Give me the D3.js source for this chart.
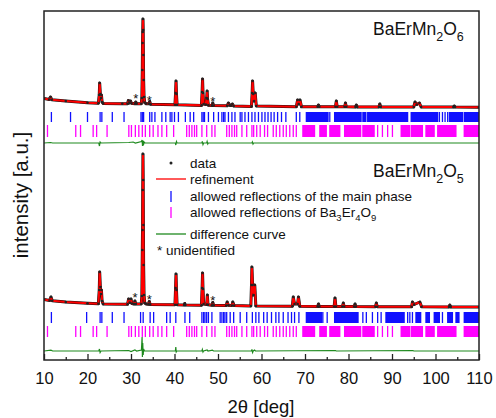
<!doctype html>
<html lang="en">
<head>
	<meta charset="UTF-8">
	<title>BaErMn2O6 / BaErMn2O5 refinement | d3</title>
	<style>
		body {
			margin: 0;
			background: #fff;
		}
		svg text {
			font-family: "Liberation Sans", Arial, sans-serif;
			fill: #111;
		}
	</style>
</head>
<body>
	<script src="https://cdn.jsdelivr.net/npm/d3@7/dist/d3.min.js"></script>
	<script>
		// x axis
		var xTicks = [10, 20, 30, 40, 50, 60, 70, 80, 90, 100, 110],
			xMinorTicks = [15, 25, 35, 45, 55, 65, 75, 85, 95, 105];

		// observed / calculated profile, BaErMn2O6 (top) [2theta, counts]
		var profileO6 = [
			[10.0, 115], [11.2, 105], [11.5, 130], [11.8, 102], [15, 90], [20, 72], [22.5, 68],
			[22.7, 150], [22.8, 270], [22.95, 160], [23.1, 120], [23.2, 150], [23.35, 80], [23.6, 66],
			[28, 62], [29.2, 62], [29.4, 95], [29.6, 70], [29.9, 90], [30.1, 68], [30.9, 62],
			[31.1, 80], [31.3, 62], [32.35, 62], [32.5, 120], [32.6, 400], [32.65, 670], [32.7, 780],
			[32.75, 910], [32.8, 800], [32.85, 550], [32.9, 300], [33.0, 130], [33.15, 75], [33.5, 62],
			[34.1, 62], [34.3, 85], [34.5, 58], [40.1, 52], [40.25, 170], [40.35, 290], [40.45, 160],
			[40.6, 52], [46.2, 46], [46.35, 180], [46.45, 310], [46.55, 170], [46.7, 60], [47.2, 55],
			[47.4, 120], [47.5, 190], [47.6, 110], [47.8, 48], [48.6, 46], [48.8, 70], [49.0, 45],
			[52.1, 42], [52.4, 70], [52.7, 48], [53.0, 44], [53.3, 60], [53.6, 40], [57.7, 36],
			[57.85, 170], [57.95, 290], [58.1, 160], [58.3, 90], [58.55, 170], [58.8, 40], [68.0, 32],
			[68.3, 100], [68.55, 60], [68.85, 100], [69.2, 32], [72.9, 32], [73.1, 50], [73.3, 32],
			[77.0, 32], [77.2, 90], [77.4, 32], [79.1, 32], [79.3, 70], [79.5, 32], [81.6, 31],
			[81.8, 50], [82.0, 31], [87.0, 31], [87.2, 60], [87.4, 31], [95.0, 30], [95.3, 80],
			[95.7, 55], [96.3, 70], [96.7, 30], [104.1, 30], [104.3, 40], [104.5, 30], [110, 28]
		];

		// observed / calculated profile, BaErMn2O5 (bottom)
		var profileO5 = [
			[10.0, 105], [11.3, 95], [11.6, 130], [11.9, 92], [15, 80], [20, 68], [22.5, 62],
			[22.7, 200], [22.8, 380], [22.95, 230], [23.1, 160], [23.2, 200], [23.35, 90], [23.6, 60],
			[29.2, 58], [29.45, 110], [29.7, 75], [30.0, 110], [30.2, 65], [30.7, 60], [30.9, 90],
			[31.1, 60], [32.35, 60], [32.5, 140], [32.6, 600], [32.65, 800], [32.7, 1200], [32.75, 1560],
			[32.8, 1300], [32.85, 850], [32.9, 450], [33.0, 150], [33.15, 70], [33.5, 60], [34.0, 58],
			[34.2, 85], [34.4, 56], [40.1, 52], [40.25, 220], [40.35, 360], [40.45, 200], [40.6, 52],
			[42.2, 50], [42.35, 65], [42.5, 50], [46.2, 48], [46.35, 220], [46.45, 370], [46.55, 210],
			[46.7, 60], [47.4, 55], [47.55, 150], [47.7, 52], [48.6, 48], [48.8, 75], [49.0, 48],
			[51.9, 45], [52.1, 80], [52.4, 48], [53.2, 45], [53.4, 80], [53.7, 44], [57.55, 40],
			[57.7, 250], [57.8, 430], [57.95, 250], [58.2, 150], [58.45, 250], [58.7, 40], [67.1, 38],
			[67.3, 130], [67.6, 60], [68.3, 60], [68.5, 130], [68.8, 38], [72.9, 36], [73.1, 60],
			[73.3, 36], [76.7, 35], [76.9, 120], [77.1, 35], [78.6, 35], [78.8, 70], [79.0, 35],
			[81.3, 34], [81.5, 60], [81.7, 34], [86.2, 33], [86.4, 70], [86.6, 33], [94.5, 32],
			[94.7, 80], [95.1, 55], [96.4, 80], [96.8, 32], [103.1, 31], [103.3, 50], [103.5, 31],
			[110, 30]
		];

		// difference curves (obs - calc)
		var diffO6 = [
			[10, 0], [11.5, 5], [12, 0], [22.6, 0], [22.75, -30], [22.9, 10], [23.1, 0], [29.5, 5],
			[30.5, 10], [31, 0], [32.4, 15], [32.55, 30], [32.65, -30], [32.75, 25], [32.85, -25],
			[33.0, 10], [33.2, 0], [40.2, 0], [40.3, -20], [40.45, 15], [40.6, 0], [46.3, 0],
			[46.4, 15], [46.55, -15], [46.7, 0], [47.4, 0], [47.5, 15], [47.65, -10], [47.8, 0],
			[57.8, 0], [57.9, 10], [58.05, -10], [58.2, 0], [110, 0]
		];
		var diffO5 = [
			[10, 0], [11.6, 8], [12, 0], [22.6, 0], [22.75, 20], [22.9, -15], [23.1, 0], [29.5, 5],
			[30.0, -5], [30.9, 10], [31.3, 0], [32.4, 10], [32.55, 140], [32.62, -60], [32.7, 80],
			[32.8, -40], [32.9, 20], [33.1, 0], [40.2, 0], [40.3, 40], [40.4, -10], [40.55, 0],
			[46.3, 0], [46.4, 15], [46.55, -10], [46.7, 0], [47.5, 10], [47.7, 0], [48.7, 8], [49, 0],
			[57.7, 0], [57.8, 15], [57.95, -15], [58.1, 0], [58.4, 10], [58.6, 0], [77, 5], [77.2, 0],
			[94.8, 5], [95.0, 0], [110, 0]
		];

		// allowed reflections of the main phase
		var mainO6 = [11.7, 16.1, 20.0, 22.9, 23.3, 25.7, 28.4, 32.3, 32.6, 32.9, 34.3, 34.8, 35.5,
			37.1, 38.0, 39.0, 39.4, 40.0, 40.9, 42.5, 43.6, 44.4, 46.3, 46.6, 46.9, 47.8, 49.0, 50.1,
			50.9, 51.3, 51.6, 52.4, 53.2, 53.9, 55.1, 55.5, 56.2, 57.0, 57.8, 58.5, 59.3, 60.1, 60.8,
			61.5, 62.2, 62.9, 63.7, 64.6, 65.6, 68.0, 68.8, 75.7, 100.9, 101.6, 102.2, 102.8];
		var mainO6Bands = [[70.3, 75.3], [76.8, 82.9], [83.3, 84.0], [84.4, 93.6], [94.4, 100.5],
			[103.2, 106.2], [106.6, 110]];

		var mainO5 = [11.7, 19.8, 22.9, 23.3, 25.7, 28.4, 32.2, 32.8, 34.4, 35.2, 38.2, 39.0, 40.3,
			42.4, 43.5, 46.3, 46.7, 47.0, 47.4, 47.8, 48.6, 50.5, 50.9, 51.3, 51.6, 52.0, 52.8, 53.6,
			55.1, 56.6, 57.9, 58.7, 59.4, 60.5, 61.3, 62.3, 63.3, 64.0, 65.0, 66.1, 66.9, 67.6, 68.6,
			74.1, 75.1, 83.3, 84.1, 85.5, 86.7, 87.5, 93.6, 94.1, 94.7, 101.6];
		var mainO5Bands = [[70.3, 73.8], [76.8, 82.2], [88.6, 92.8], [95.5, 96.6], [97.8, 98.6],
			[99.7, 100.9], [102.8, 103.9], [104.7, 105.4], [106.6, 110]];

		// allowed reflections of Ba3Er4O9
		var impurity = [10.8, 17.3, 18.4, 21.3, 22.1, 24.5, 29.5, 30.1, 31.0, 31.8, 32.6, 33.3, 34.3,
			35.1, 36.2, 37.1, 38.2, 39.8, 42.8, 43.4, 44.0, 44.6, 45.1, 46.3, 47.4, 48.6, 49.3, 52.0,
			52.6, 53.2, 53.8, 54.3, 55.5, 56.6, 57.8, 58.2, 58.9, 59.7, 60.7, 61.4, 62.7, 63.4, 64.2,
			65.0, 65.7, 66.5, 67.3, 68.0, 86.7, 87.8, 89.0, 90.1];
		var impurityBands = [[69.5, 72.2], [73.4, 74.9], [75.7, 78.0], [79.1, 82.8], [83.3, 85.9],
			[92.1, 94.0], [94.4, 97.0], [97.8, 99.7], [100.5, 104.7], [106.6, 110]];

		// unidentified reflections (*) [2theta, counts]
		var starsO6 = [[31.1, 140], [34.2, 120], [48.8, 110]],
			starsO5 = [[30.9, 150], [34.2, 130], [48.8, 120]];

		var w = 496,
			h = 418,
			margin = {top: 11, right: 17, bottom: 58, left: 44};

		var svg = d3.select('body')
			.append('svg')
			.attr('width', w)
			.attr('height', h);

		var xScale = d3.scaleLinear()
			.domain([10, 110])
			.range([margin.left, w - margin.right]);

		var yScale = d3.scaleLinear()
			.domain([0, 3490])
			.range([h - margin.bottom, margin.top]);

		// vertical stacking of the two patterns
		var topOffset = 2500,
			bottomOffset = 500,
			topDiffZero = 2170,
			bottomDiffZero = 90;

		svg.append('clipPath')
			.attr('id', 'plot-clip')
			.append('rect')
			.attr('x', margin.left)
			.attr('y', margin.top)
			.attr('width', w - margin.left - margin.right)
			.attr('height', h - margin.top - margin.bottom);

		var plot = svg.append('g').attr('clip-path', 'url(#plot-clip)');

		var drawTicks = function(lines, bands, y0, y1, color) {
			var g = plot.append('g');
			g.selectAll('line')
				.data(lines)
				.enter()
				.append('line')
				.attr('x1', function(d) { return xScale(d); })
				.attr('x2', function(d) { return xScale(d); })
				.attr('y1', yScale(y0))
				.attr('y2', yScale(y1))
				.attr('stroke', color)
				.attr('stroke-width', 1.3);
			g.selectAll('rect')
				.data(bands)
				.enter()
				.append('rect')
				.attr('x', function(d) { return xScale(d[0]) - 0.6; })
				.attr('width', function(d) { return xScale(d[1]) - xScale(d[0]) + 1.2; })
				.attr('y', yScale(y1))
				.attr('height', yScale(y0) - yScale(y1))
				.attr('fill', color);
		};

		var drawPattern = function(profile, offset, diff, diffZero, stars) {
			var line = d3.line()
				.x(function(d) { return xScale(d[0]); })
				.y(function(d) { return yScale(d[1] + offset); });

			// data points (dense, looks like a black band)
			plot.append('path')
				.datum(profile)
				.attr('d', line)
				.attr('fill', 'none')
				.attr('stroke', '#111')
				.attr('stroke-width', 3)
				.attr('stroke-linejoin', 'round');

			// refinement
			plot.append('path')
				.datum(profile)
				.attr('d', line)
				.attr('fill', 'none')
				.attr('stroke', '#ff0000')
				.attr('stroke-width', 2.1)
				.attr('stroke-linejoin', 'round');

			plot.append('g')
				.selectAll('circle')
				.data(profile)
				.enter()
				.append('circle')
				.attr('cx', function(d) { return xScale(d[0]); })
				.attr('cy', function(d) { return yScale(d[1] + offset); })
				.attr('r', 1.3)
				.attr('fill', '#222');

			var diffLine = d3.line()
				.x(function(d) { return xScale(d[0]); })
				.y(function(d) { return yScale(d[1] + diffZero); });

			plot.append('path')
				.datum(diff)
				.attr('d', diffLine)
				.attr('fill', 'none')
				.attr('stroke', '#1f8a1f')
				.attr('stroke-width', 1.2);

			plot.append('g')
				.selectAll('text')
				.data(stars)
				.enter()
				.append('text')
				.text('*')
				.attr('x', function(d) { return xScale(d[0]); })
				.attr('y', function(d) { return yScale(d[1] + offset) + 7; })
				.attr('text-anchor', 'middle')
				.style('font-size', '13px');
		};

		drawTicks(mainO6, mainO6Bands, 2380, 2480, '#1010ff');
		drawTicks(impurity, impurityBands, 2230, 2350, '#ff00ff');
		drawTicks(mainO5, mainO5Bands, 370, 480, '#1010ff');
		drawTicks(impurity, impurityBands, 230, 340, '#ff00ff');

		drawPattern(profileO6, topOffset, diffO6, topDiffZero, starsO6);
		drawPattern(profileO5, bottomOffset, diffO5, bottomDiffZero, starsO5);

		// frame
		svg.append('rect')
			.attr('x', margin.left)
			.attr('y', margin.top)
			.attr('width', w - margin.left - margin.right)
			.attr('height', h - margin.top - margin.bottom)
			.attr('fill', 'none')
			.attr('stroke', '#222')
			.attr('stroke-width', 1.5);

		// x axis, ticks pointing inward
		var xAxis = d3.axisBottom(xScale)
			.tickValues(xTicks)
			.tickSize(-6)
			.tickPadding(12)
			.tickFormat(d3.format('d'));

		var gx = svg.append('g')
			.attr('transform', 'translate(0,' + (h - margin.bottom) + ')')
			.call(xAxis);
		gx.select('.domain').remove();
		gx.selectAll('line').attr('stroke', '#222').attr('stroke-width', 1.3);
		gx.selectAll('text')
			.style('font-family', '"Liberation Sans", Arial, sans-serif')
			.style('font-size', '16.5px')
			.attr('fill', '#111');

		var gxMinor = svg.append('g')
			.attr('transform', 'translate(0,' + (h - margin.bottom) + ')')
			.call(d3.axisBottom(xScale).tickValues(xMinorTicks).tickSize(-3).tickFormat(''));
		gxMinor.select('.domain').remove();
		gxMinor.selectAll('line').attr('stroke', '#222').attr('stroke-width', 1.3);

		// axis titles
		svg.append('text')
			.attr('x', 261)
			.attr('y', 413)
			.attr('text-anchor', 'middle')
			.style('font-size', '18.5px')
			.text('2\u03b8 [deg]');

		svg.append('text')
			.attr('transform', 'translate(28,195) rotate(-90)')
			.attr('text-anchor', 'middle')
			.style('font-size', '20.5px')
			.text('intensity [a.u.]');

		// compound labels
		var compoundLabel = function(y, last) {
			var t = svg.append('text')
				.attr('x', 373)
				.attr('y', y)
				.style('font-size', '17.5px');
			t.append('tspan').text('BaErMn');
			t.append('tspan').attr('dy', 6).style('font-size', '12.5px').text('2');
			t.append('tspan').attr('dy', -6).text('O');
			t.append('tspan').attr('dy', 6).style('font-size', '12.5px').text(last);
		};
		compoundLabel(35, '6');
		compoundLabel(177, '5');

		// legend
		var legend = svg.append('g').style('font-size', '13.5px');
		var lx = 190;

		legend.append('circle').attr('cx', 171).attr('cy', 163).attr('r', 1.5).attr('fill', '#222');
		legend.append('text').attr('x', lx).attr('y', 163).attr('dy', '0.35em').text('data');

		legend.append('line').attr('x1', 156).attr('x2', 186).attr('y1', 179).attr('y2', 179)
			.attr('stroke', '#ff0000').attr('stroke-width', 1.3);
		legend.append('text').attr('x', lx).attr('y', 179).attr('dy', '0.35em').text('refinement');

		legend.append('line').attr('x1', 171).attr('x2', 171).attr('y1', 191).attr('y2', 202)
			.attr('stroke', '#1010ff').attr('stroke-width', 1.3);
		legend.append('text').attr('x', lx).attr('y', 196).attr('dy', '0.35em')
			.text('allowed reflections of the main phase');

		legend.append('line').attr('x1', 171).attr('x2', 171).attr('y1', 207).attr('y2', 218)
			.attr('stroke', '#ff00ff').attr('stroke-width', 1.3);
		var imp = legend.append('text').attr('x', lx).attr('y', 212).attr('dy', '0.35em');
		imp.append('tspan').text('allowed reflections of Ba');
		imp.append('tspan').attr('dy', 4).style('font-size', '9.5px').text('3');
		imp.append('tspan').attr('dy', -4).text('Er');
		imp.append('tspan').attr('dy', 4).style('font-size', '9.5px').text('4');
		imp.append('tspan').attr('dy', -4).text('O');
		imp.append('tspan').attr('dy', 4).style('font-size', '9.5px').text('9');

		legend.append('line').attr('x1', 156).attr('x2', 186).attr('y1', 234).attr('y2', 234)
			.attr('stroke', '#1f8a1f').attr('stroke-width', 1.3);
		legend.append('text').attr('x', lx).attr('y', 234).attr('dy', '0.35em').text('difference curve');

		legend.append('text').attr('x', 157).attr('y', 250).attr('dy', '0.35em').text('* unidentified');
	</script>
</body>
</html>
